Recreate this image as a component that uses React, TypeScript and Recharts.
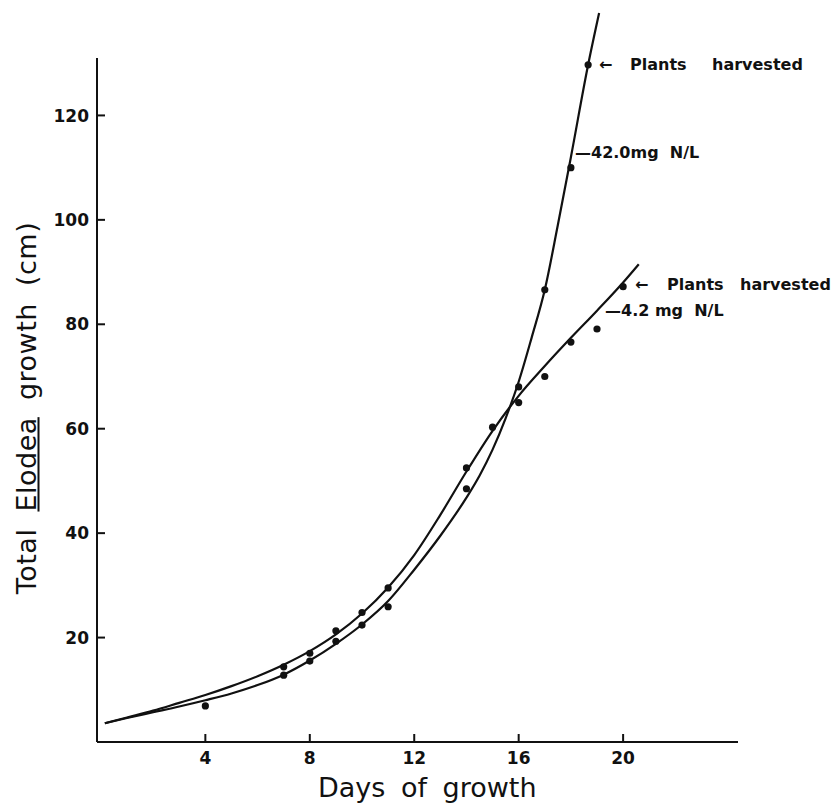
import { ComposedChart, Line, Scatter, XAxis, YAxis, ReferenceLine } from 'recharts';

// fitted curves
const curveLowDays = [0.15, 1, 2, 3, 4, 5, 6, 7, 8, 9, 10, 11, 12, 13, 14, 15, 16, 17, 18, 19, 20, 20.6];
const curveLowValues = [3.6, 4.7, 6.0, 7.5, 9.0, 10.7, 12.6, 14.8, 17.4, 20.6, 24.6, 29.6, 35.8, 43.5, 51.8, 59.6, 66.3, 72, 77.4, 82.6, 88, 91.5];

const curveHighDays = [0.15, 1, 2, 3, 4, 5, 6, 7, 8, 9, 10, 11, 12, 13, 14, 14.5, 15, 15.5, 16, 16.5, 17, 17.5, 18, 18.66, 19.08];
const curveHighValues = [3.6, 4.6, 5.7, 6.8, 8.0, 9.3, 10.9, 12.9, 15.6, 18.8, 22.5, 27, 33, 39.5, 46.8, 51, 56, 62, 69, 77.5, 86.6, 99, 112, 129.7, 139.6];

// measured points
const lowDays = [7, 8, 9, 10, 11, 14, 15, 16, 17, 18, 19, 20];
const lowValues = [14.4, 17.0, 21.3, 24.8, 29.5, 52.5, 60.3, 68, 70, 76.6, 79.1, 87.2];

const highDays = [4, 7, 8, 9, 10, 11, 14, 16, 17, 18, 18.66];
const highValues = [6.9, 12.8, 15.5, 19.3, 22.4, 25.9, 48.5, 65, 86.6, 110, 129.7];

const xTicks = [4, 8, 12, 16, 20];
const yTicks = [20, 40, 60, 80, 100, 120];

const toPoints = (xs: number[], ys: number[]) => xs.map((x, i) => ({ x, y: ys[i] }));

const curveLow = toPoints(curveLowDays, curveLowValues);
const curveHigh = toPoints(curveHighDays, curveHighValues);
const pointsLow = toPoints(lowDays, lowValues);
const pointsHigh = toPoints(highDays, highValues);

const INK = '#111';
const FONT = '"DejaVu Sans", sans-serif';

const XTick = ({ x, y, payload }: any) => (
  <g>
    <line x1={x} x2={x} y1={y} y2={y - 8} stroke={INK} strokeWidth={2} />
    <text x={x} y={y + 22} textAnchor="middle" fontFamily={FONT} fontWeight="bold" fontSize={17} fill={INK}>
      {payload.value}
    </text>
  </g>
);

const YTick = ({ x, y, payload }: any) => (
  <g>
    <line x1={x} x2={x + 8} y1={y} y2={y} stroke={INK} strokeWidth={2} />
    <text x={x - 8} y={y} dy="0.36em" textAnchor="end" fontFamily={FONT} fontWeight="bold" fontSize={17} fill={INK}>
      {payload.value}
    </text>
  </g>
);

const dotShape = (p: any) => <circle cx={p.cx} cy={p.cy} r={3.6} fill={INK} />;

const note: React.CSSProperties = {
  position: 'absolute',
  fontFamily: FONT,
  fontWeight: 'bold',
  fontSize: 16,
  color: INK,
  whiteSpace: 'pre',
  lineHeight: '16px',
  transform: 'translateY(-50%)',
};

export default function App() {
  return (
    <div style={{ position: 'absolute', left: 0, top: 0, width: 835, height: 807, background: '#fff', overflow: 'hidden' }}>
      <ComposedChart width={835} height={807} margin={{ top: 11, right: 97, bottom: 35, left: 67 }}>
        <XAxis
          dataKey="x"
          type="number"
          domain={[-0.15, 24.4]}
          ticks={xTicks}
          tick={<XTick />}
          tickSize={0}
          tickMargin={0}
          tickLine={false}
          height={30}
          axisLine={{ stroke: INK, strokeWidth: 2 }}
          allowDataOverflow
        />
        <YAxis
          dataKey="y"
          type="number"
          domain={[0, 140]}
          ticks={yTicks}
          tick={<YTick />}
          tickSize={0}
          tickMargin={0}
          tickLine={false}
          width={30}
          axisLine={false}
          allowDataOverflow
        />
        <ReferenceLine
          segment={[{ x: -0.15, y: 0 }, { x: -0.15, y: 131 }]}
          stroke={INK}
          strokeWidth={2}
          ifOverflow="visible"
        />
        <Line data={curveLow} dataKey="y" type="monotone" stroke={INK} strokeWidth={2.2} dot={false} isAnimationActive={false} />
        <Line data={curveHigh} dataKey="y" type="monotone" stroke={INK} strokeWidth={2.2} dot={false} isAnimationActive={false} />
        <Scatter data={pointsLow} dataKey="y" fill={INK} shape={dotShape} isAnimationActive={false} />
        <Scatter data={pointsHigh} dataKey="y" fill={INK} shape={dotShape} isAnimationActive={false} />
      </ComposedChart>

      {/* axis titles */}
      <div
        style={{
          position: 'absolute',
          left: 318,
          top: 774,
          fontFamily: FONT,
          fontSize: 27,
          wordSpacing: 7,
          color: INK,
          whiteSpace: 'pre',
          lineHeight: 1,
        }}
      >
        Days of growth
      </div>
      <div
        style={{
          position: 'absolute',
          left: 26,
          top: 408,
          transform: 'translate(-50%, -50%) rotate(-90deg)',
          fontFamily: FONT,
          fontSize: 27,
          wordSpacing: 8,
          letterSpacing: 0.5,
          color: INK,
          whiteSpace: 'pre',
          lineHeight: 1,
        }}
      >
        Total <span style={{ textDecoration: 'underline' }}>Elodea</span> growth (cm)
      </div>

      {/* annotations */}
      <div style={{ ...note, left: 599, top: 65 }}>←</div>
      <div style={{ ...note, left: 630, top: 65 }}>Plants</div>
      <div style={{ ...note, left: 712, top: 65 }}>harvested</div>
      <div style={{ ...note, left: 575, top: 153 }}>—42.0mg  N/L</div>

      <div style={{ ...note, left: 635, top: 285 }}>←</div>
      <div style={{ ...note, left: 667, top: 285 }}>Plants</div>
      <div style={{ ...note, left: 740, top: 285 }}>harvested</div>
      <div style={{ ...note, left: 605, top: 311 }}>—4.2 mg  N/L</div>
    </div>
  );
}
